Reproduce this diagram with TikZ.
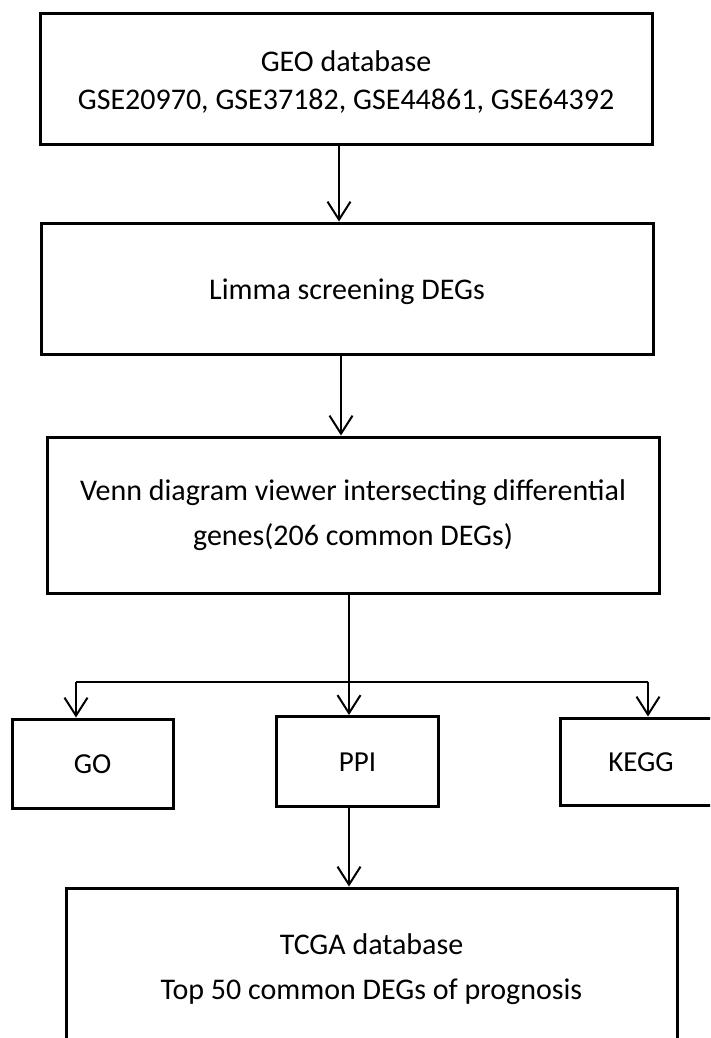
\documentclass[tikz,border=0pt]{standalone}
\usepackage{fontspec}
\setmainfont{Carlito}
\usetikzlibrary{arrows.meta}
\begin{document}
\begin{tikzpicture}[x=1pt,y=-1pt,
  stepbox/.style={draw=black,line width=3pt,inner sep=0pt,align=center,
    font=\fontsize{30}{38}\selectfont},
  smallbox/.style={stepbox,minimum height=89pt,
    font=\fontsize{29}{35}\selectfont,text height=19pt,text depth=0pt},
  arr/.style={line width=2pt,-{Straight Barb[length=18pt,width=23pt,line width=2pt]}},
  link/.style={line width=2pt}]
\useasboundingbox (0,0) rectangle (710,1038);
\clip (0,0) rectangle (710,1038);
\fill[white] (0,0) rectangle (710,1038);

% main pipeline
\node[stepbox,minimum width=612pt,minimum height=130pt,text height=65pt] (geo) at (346,79)
  {GEO database\\GSE20970, GSE37182, GSE44861, GSE64392};
\node[stepbox,minimum width=612pt,minimum height=131pt,text height=27pt] (limma) at (347,288.5)
  {Limma screening DEGs};
\node[stepbox,minimum width=612pt,minimum height=156pt,
  font=\fontsize{30}{45}\selectfont] (venn) at (353,515)
  {Venn diagram viewer intersecting differential\\genes(206 common DEGs)};

% analyses
\node[smallbox,minimum width=161pt] (go) at (92.5,763.5) {GO};
\node[smallbox,minimum width=162pt,minimum height=90pt] (ppi) at (357.5,761.5) {PPI};
\node[smallbox,minimum width=162pt,minimum height=87pt] (kegg) at (641,761.5) {KEGG};

% prognosis
\node[stepbox,minimum width=611pt,minimum height=159pt,text height=70pt,
  font=\fontsize{30}{45}\selectfont] (tcga) at (371.5,967.5)
  {TCGA database\\Top 50 common DEGs of prognosis};

% connectors
\draw[arr] ([xshift=-7pt]geo.south) -- ([xshift=-7pt]geo.south |- limma.north);
\draw[arr] ([xshift=-6pt]limma.south) -- ([xshift=-6pt]limma.south |- venn.north);

\coordinate (split) at (349,682);
\coordinate (jl) at (76,682);
\coordinate (jr) at (648,682);
\draw[link] (venn.south -| split) -- (split);
\draw[link] (jl) -- (jr);
\draw[arr] (jl) -- (jl |- go.north);
\draw[arr] (split) -- (split |- ppi.north);
\draw[arr] (jr) -- (jr |- kegg.north);
\draw[arr] (split |- ppi.south) -- (split |- tcga.north);
\end{tikzpicture}
\end{document}
